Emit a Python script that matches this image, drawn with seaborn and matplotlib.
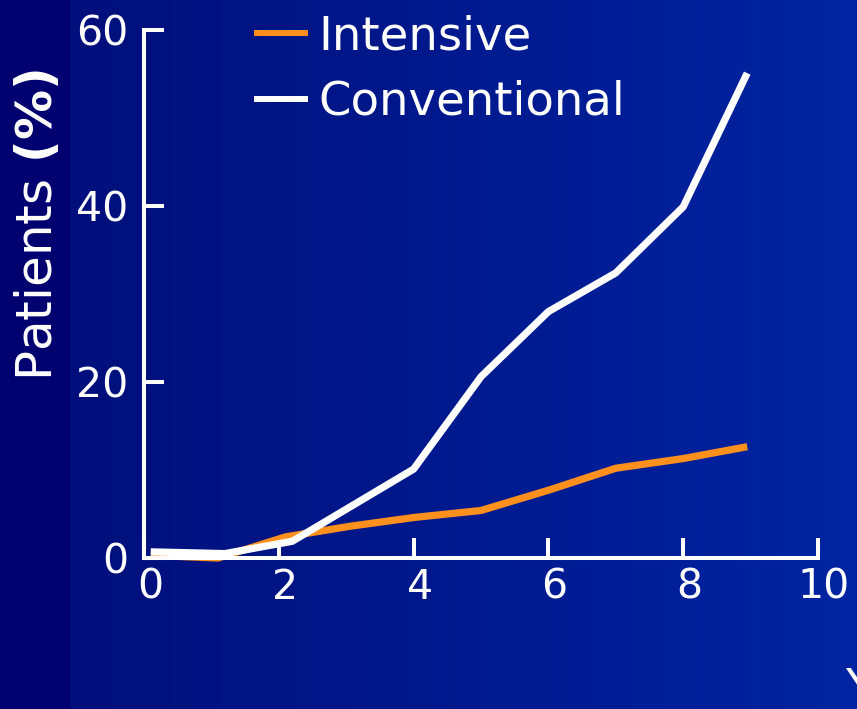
import numpy as np
import pandas as pd
import matplotlib
matplotlib.use("Agg")
import matplotlib.pyplot as plt
from matplotlib.transforms import ScaledTranslation
import seaborn as sns

# Cumulative share of patients reaching the endpoint, by year of follow-up
years_intensive = [0.1, 1.1, 2.1, 3.05, 4.0, 5.0, 6.0, 7.0, 8.0, 8.95]
pct_intensive = [0.3, 0.0, 2.4, 3.6, 4.6, 5.4, 7.7, 10.2, 11.3, 12.65]
years_conventional = [0.1, 1.2, 2.2, 4.0, 5.0, 6.0, 7.0, 8.0, 8.95]
pct_conventional = [0.7, 0.5, 1.9, 10.1, 20.6, 28.0, 32.4, 39.9, 55.1]
series_names = ["Intensive", "Conventional"]
series_colors = ["#FF901E", "#FFFFFF"]
x_ticks = [0, 2, 4, 6, 8, 10]
y_ticks = [0, 20, 40, 60]

df = pd.concat([
    pd.DataFrame({"Years": years_intensive, "Patients": pct_intensive,
                  "Treatment": series_names[0]}),
    pd.DataFrame({"Years": years_conventional, "Patients": pct_conventional,
                  "Treatment": series_names[1]}),
], ignore_index=True)

W, H, DPI = 857, 709, 100
sns.set_theme(style="white")
plt.rcParams["font.family"] = ["DejaVu Sans"]

fig = plt.figure(figsize=(W / DPI, H / DPI), dpi=DPI)

# slide background: dark strip on the left, horizontal blue gradient elsewhere
bg = fig.add_axes([0, 0, 1, 1], zorder=-10)
bg.set_axis_off()
strip = 70
t = np.clip((np.arange(W) - strip) / (W - strip), 0, 1)
c0 = np.array([0, 15, 123]) / 255
c1 = np.array([0, 36, 162]) / 255
row = c0[None, :] * (1 - t[:, None]) + c1[None, :] * t[:, None]
row[:strip] = np.array([0, 0, 112]) / 255
bg.imshow(row[None, :, :], aspect="auto", extent=[0, 1, 0, 1])
bg.set_xlim(0, 1)
bg.set_ylim(0, 1)

ax = fig.add_axes([144 / W, (H - 558) / H, (818 - 144) / W, (558 - 30) / H])
ax.patch.set_alpha(0)

sns.lineplot(data=df, x="Years", y="Patients", hue="Treatment",
             hue_order=series_names, palette=dict(zip(series_names, series_colors)),
             estimator=None, sort=False, linewidth=5.2, ax=ax)
for line in ax.get_lines():
    line.set_solid_capstyle("butt")
    line.set_clip_on(False)

ax.set_xlim(0, 10)
ax.set_ylim(0, 60)
ax.set_xticks(x_ticks)
ax.set_yticks(y_ticks)
ax.set_xticklabels([str(v) for v in x_ticks])
ax.set_yticklabels([str(v) for v in y_ticks])

for side in ["top", "right"]:
    ax.spines[side].set_visible(False)
for side in ["left", "bottom"]:
    ax.spines[side].set_color("white")
    ax.spines[side].set_linewidth(2.9)

ax.tick_params(axis="both", which="major", direction="in", length=14.4, width=2.9,
               colors="white", labelsize=29.5, bottom=True, left=True,
               top=False, right=False)
ax.tick_params(axis="y", pad=11.5)
ax.tick_params(axis="x", pad=7)
ax.grid(False)

# year labels sit slightly to the right of their ticks
shift = ScaledTranslation(6 / DPI, 0, fig.dpi_scale_trans)
for lab in ax.get_xticklabels():
    lab.set_transform(lab.get_transform() + shift)

ax.set_ylabel(r"Patients $\mathbf{(\%)}$", fontsize=36, color="white")
ax.yaxis.set_label_coords(-0.122, 0.63)
ax.set_xlabel("Years", fontsize=33.5, color="white", ha="left")
ax.xaxis.set_label_coords(1.040, -0.205)

handles, labels = ax.get_legend_handles_labels()
leg = ax.legend(handles, labels, loc="upper left",
                bbox_to_anchor=(254 / W, 1 - 14 / H), bbox_transform=fig.transFigure,
                frameon=False, fontsize=33.5, handlelength=54 / 46.5,
                handletextpad=10 / 46.5, labelspacing=0.45, borderpad=0,
                borderaxespad=0, labelcolor="white")
for l in leg.get_lines():
    l.set_linewidth(4.3)
    l.set_solid_capstyle("butt")

fig.savefig("out.png", dpi=DPI)
